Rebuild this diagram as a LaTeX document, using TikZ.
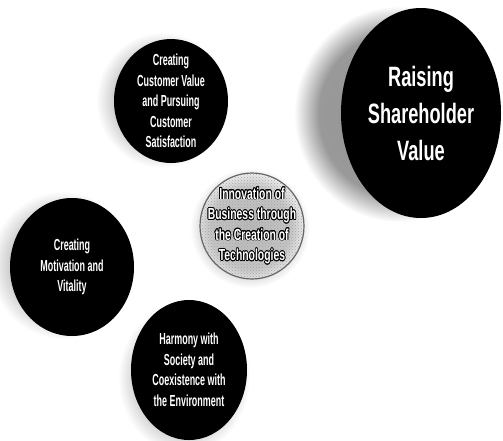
\documentclass[tikz,border=0pt]{standalone}
\usepackage{fontspec}
\setmainfont{Liberation Sans}
\newfontfamily\condfont{Liberation Sans}[FakeStretch=0.56]
\newfontfamily\widecondfont{Liberation Sans}[FakeStretch=0.65]
\usepackage{contour}
\contourlength{0.7pt}
\usetikzlibrary{shapes.geometric,patterns,backgrounds}

\pgfdeclareradialshading{haloshade}{\pgfpoint{0bp}{0bp}}{%
    color(0bp)=(gray!85); color(19bp)=(gray!80); color(25bp)=(white); color(50bp)=(white)}
\pgfdeclareradialshading{softhalo}{\pgfpoint{0bp}{0bp}}{%
    color(0bp)=(gray!55); color(17bp)=(gray!45); color(25bp)=(white); color(50bp)=(white)}

\begin{document}
\begin{tikzpicture}[x=1pt,y=-1pt,
    bubble/.style={ellipse, fill=black, text=white, align=center, inner sep=-14pt,
        font=\condfont\fontsize{16}{20.5}\bfseries\selectfont},
    bigbubble/.style={bubble, font=\widecondfont\fontsize{28}{37}\bfseries\selectfont},
    dotbubble/.style={ellipse, draw=gray!80!black, line width=1.2pt, fill=gray!20,
        pattern=crosshatch dots, pattern color=gray!70, text=white, align=center,
        inner sep=-14pt, font=\widecondfont\fontsize{16}{20.5}\bfseries\selectfont},
    halo/.style={shading=haloshade},
    softhalo/.style={shading=softhalo}]

    \useasboundingbox (0,0) rectangle (503,440);

    % halos
    \shade[halo] (398,114) ellipse (104pt and 108pt);
    \shade[softhalo] (162,100) ellipse (66pt and 68pt);
    \shade[softhalo] (62,265) ellipse (72pt and 74pt);
    \shade[softhalo] (250,228) ellipse (60pt and 60pt);
    \shade[softhalo] (184,378) ellipse (66pt and 76pt);

    \node[bubble, minimum width=114pt, minimum height=124pt] (custval) at (171,101)
        {Creating\\Customer Value\\and Pursuing\\Customer\\Satisfaction};
    \node[bigbubble, minimum width=160pt, minimum height=210pt] (share) at (421,113)
        {Raising\\Shareholder\\Value};
    \node[bubble, minimum width=124pt, minimum height=138pt] (motiv) at (72,267)
        {Creating\\Motivation and\\Vitality};
    \node[dotbubble, minimum width=104pt, minimum height=106pt] (innov) at (252,226)
        {\contour{black}{Innovation of}\\\contour{black}{Business through}\\
         \contour{black}{the Creation of}\\\contour{black}{Technologies}};
    \node[bubble, minimum width=116pt, minimum height=140pt] (harmony) at (189,370)
        {Harmony with\\Society and\\Coexistence with\\the Environment};
    %
\end{tikzpicture}
\end{document}
